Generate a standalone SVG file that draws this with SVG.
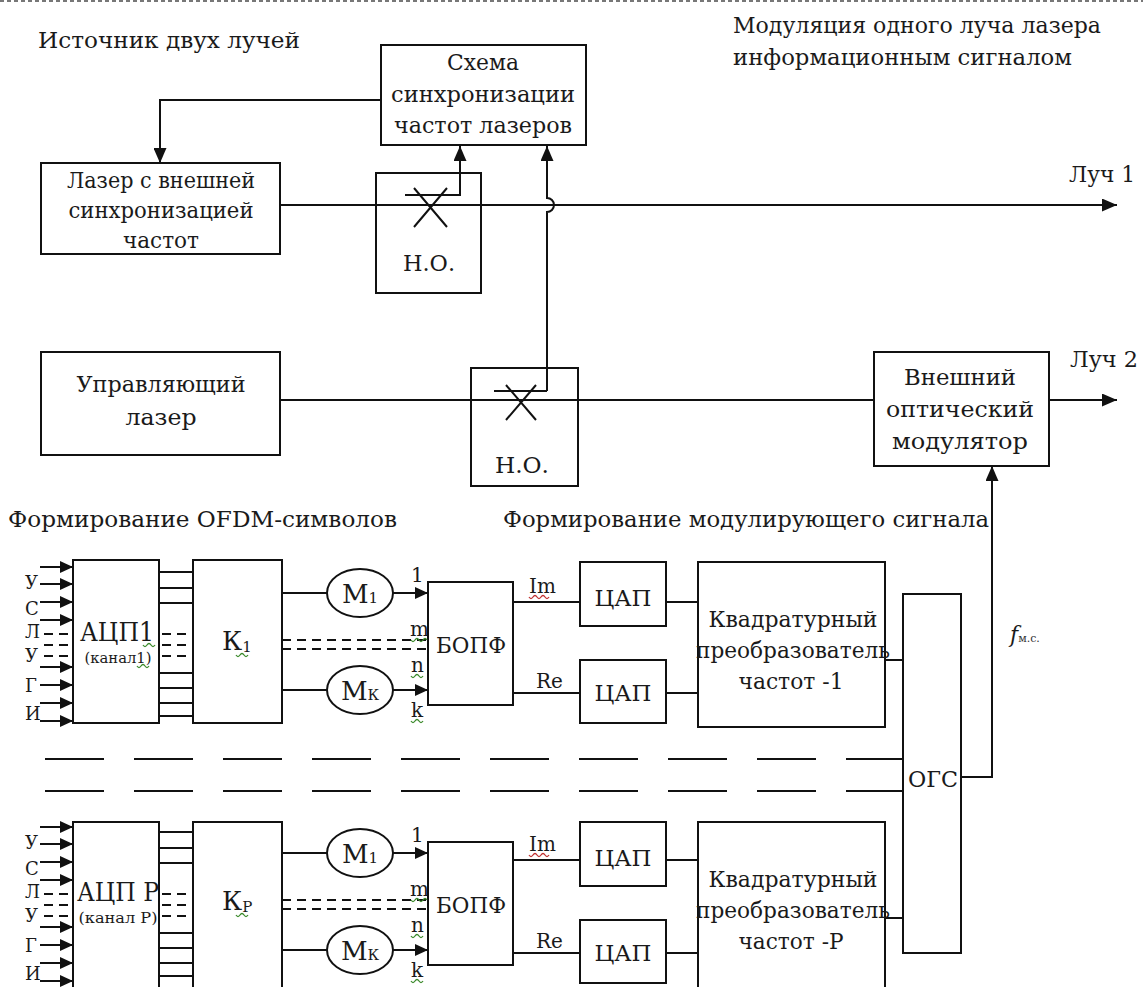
<svg xmlns="http://www.w3.org/2000/svg" width="1143" height="987" viewBox="0 0 1143 987">
<defs>
<marker id="ah" markerUnits="userSpaceOnUse" markerWidth="15" markerHeight="13" refX="15" refY="6.5" orient="auto"><path d="M0,0 L15,6.5 L0,13 z" fill="#111"/></marker>
<marker id="ahs" markerUnits="userSpaceOnUse" markerWidth="13" markerHeight="12" refX="13" refY="6" orient="auto"><path d="M0,0 L13,6 L0,12 z" fill="#111"/></marker>
<style>
.b{fill:#fff;stroke:#111;stroke-width:2}
.l{fill:none;stroke:#111;stroke-width:2}
.d{fill:none;stroke:#111;stroke-width:2;stroke-dasharray:9 6}
.t{font-family:"DejaVu Serif","Liberation Serif",serif;font-size:22px;fill:#1a1a1a}
.c{text-anchor:middle}
.big{font-size:26px}
.sm{font-size:14px}
.lt{font-size:18px}
.lb{font-size:20px}
.sq{fill:none;stroke:#3a8a2a;stroke-width:1.3}
.sqr{fill:none;stroke:#c03030;stroke-width:1.3}
</style>
</defs>
<rect width="1143" height="987" fill="#fff"/>
<line x1="0" y1="1" x2="1143" y2="1" stroke="#777" stroke-width="2" stroke-dasharray="4 3"/>

<g id="captions">
<text class="t" x="38" y="48" textLength="262" lengthAdjust="spacingAndGlyphs">Источник двух лучей</text>
<text class="t" x="733" y="33" textLength="368" lengthAdjust="spacingAndGlyphs">Модуляция одного луча лазера</text>
<text class="t" x="733" y="65" textLength="339" lengthAdjust="spacingAndGlyphs">информационным сигналом</text>
<text class="t" x="1069" y="182" textLength="66" lengthAdjust="spacingAndGlyphs">Луч 1</text>
<text class="t" x="1070" y="367" textLength="68" lengthAdjust="spacingAndGlyphs">Луч 2</text>
<text class="t" x="8" y="527" textLength="389" lengthAdjust="spacingAndGlyphs">Формирование OFDM-символов</text>
<text class="t" x="503" y="527" textLength="486" lengthAdjust="spacingAndGlyphs">Формирование модулирующего сигнала</text>
<text class="t" x="1010" y="642" font-style="italic" font-size="20" fill="#2a5a10">f<tspan font-size="11" font-style="normal" fill="#333">м.с.</tspan></text>
</g>

<g id="connectors">
<polyline class="l" points="381,100 160,100 160,163" marker-end="url(#ah)"/>
<line class="l" x1="280" y1="205" x2="1117" y2="205" marker-end="url(#ah)"/>
<polyline class="l" points="405,195 460,195 460,146" marker-end="url(#ah)"/>
<path class="l" d="M547,391 L547,212 A7,7 0 0 0 547,198 L547,146" marker-end="url(#ah)"/>
<polyline class="l" points="494,391 547,391"/>
<line class="l" x1="280" y1="400" x2="874" y2="400"/>
<line class="l" x1="1049" y1="400" x2="1117" y2="400" marker-end="url(#ah)"/>
<polyline class="l" points="961,777 992,777 992,466" marker-end="url(#ah)"/>
<g id="row1-conn">
<line class="l" x1="40" y1="567" x2="73" y2="567" marker-end="url(#ahs)"/>
<line class="l" x1="40" y1="584" x2="73" y2="584" marker-end="url(#ahs)"/>
<line class="l" x1="40" y1="602" x2="73" y2="602" marker-end="url(#ahs)"/>
<line class="l" x1="40" y1="620" x2="73" y2="620" marker-end="url(#ahs)"/>
<line class="l" x1="40" y1="667" x2="73" y2="667" marker-end="url(#ahs)"/>
<line class="l" x1="40" y1="685" x2="73" y2="685" marker-end="url(#ahs)"/>
<line class="l" x1="40" y1="703" x2="73" y2="703" marker-end="url(#ahs)"/>
<line class="l" x1="40" y1="721" x2="73" y2="721" marker-end="url(#ahs)"/>
<line class="d" x1="44" y1="634" x2="73" y2="634"/>
<line class="d" x1="44" y1="645" x2="73" y2="645"/>
<line class="d" x1="44" y1="656" x2="73" y2="656"/>
<path class="l" d="M159,572H193M159,588H193M159,603H193M159,673H193M159,688H193M159,703H193M159,716H193"/>
<line class="d" x1="162" y1="634" x2="193" y2="634"/>
<line class="d" x1="162" y1="645" x2="193" y2="645"/>
<line class="d" x1="162" y1="656" x2="193" y2="656"/>
<line class="l" x1="282" y1="593" x2="327" y2="593"/>
<line class="l" x1="282" y1="690" x2="327" y2="690"/>
<line class="l" x1="393" y1="593" x2="428" y2="593" marker-end="url(#ahs)"/>
<line class="l" x1="393" y1="690" x2="428" y2="690" marker-end="url(#ahs)"/>
<line class="d" x1="282" y1="640" x2="428" y2="640"/>
<line class="d" x1="282" y1="649" x2="428" y2="649"/>
<line class="l" x1="513" y1="602" x2="580" y2="602"/>
<line class="l" x1="513" y1="693" x2="580" y2="693"/>
<line class="l" x1="666" y1="602" x2="698" y2="602"/>
<line class="l" x1="666" y1="693" x2="698" y2="693"/>
<line class="l" x1="885" y1="660" x2="903" y2="660"/>
</g>
<g id="row2-conn" transform="translate(0,260)">
<line class="l" x1="40" y1="567" x2="73" y2="567" marker-end="url(#ahs)"/>
<line class="l" x1="40" y1="584" x2="73" y2="584" marker-end="url(#ahs)"/>
<line class="l" x1="40" y1="602" x2="73" y2="602" marker-end="url(#ahs)"/>
<line class="l" x1="40" y1="620" x2="73" y2="620" marker-end="url(#ahs)"/>
<line class="l" x1="40" y1="667" x2="73" y2="667" marker-end="url(#ahs)"/>
<line class="l" x1="40" y1="685" x2="73" y2="685" marker-end="url(#ahs)"/>
<line class="l" x1="40" y1="703" x2="73" y2="703" marker-end="url(#ahs)"/>
<line class="l" x1="40" y1="721" x2="73" y2="721" marker-end="url(#ahs)"/>
<line class="d" x1="44" y1="634" x2="73" y2="634"/>
<line class="d" x1="44" y1="645" x2="73" y2="645"/>
<line class="d" x1="44" y1="656" x2="73" y2="656"/>
<path class="l" d="M159,572H193M159,588H193M159,603H193M159,673H193M159,688H193M159,703H193M159,716H193"/>
<line class="d" x1="162" y1="634" x2="193" y2="634"/>
<line class="d" x1="162" y1="645" x2="193" y2="645"/>
<line class="d" x1="162" y1="656" x2="193" y2="656"/>
<line class="l" x1="282" y1="593" x2="327" y2="593"/>
<line class="l" x1="282" y1="690" x2="327" y2="690"/>
<line class="l" x1="393" y1="593" x2="428" y2="593" marker-end="url(#ahs)"/>
<line class="l" x1="393" y1="690" x2="428" y2="690" marker-end="url(#ahs)"/>
<line class="d" x1="282" y1="640" x2="428" y2="640"/>
<line class="d" x1="282" y1="649" x2="428" y2="649"/>
<line class="l" x1="513" y1="600" x2="580" y2="600"/>
<line class="l" x1="513" y1="693" x2="580" y2="693"/>
<line class="l" x1="666" y1="600" x2="698" y2="600"/>
<line class="l" x1="666" y1="693" x2="698" y2="693"/>
<line class="l" x1="885" y1="658" x2="903" y2="658"/>
</g>
<line x1="45" y1="759" x2="905" y2="759" stroke="#111" stroke-width="2" stroke-dasharray="59 30"/>
<line x1="45" y1="791" x2="905" y2="791" stroke="#111" stroke-width="2" stroke-dasharray="59 30"/>
</g>

<g id="sync">
<rect class="b" x="381" y="45" width="205" height="100"/>
<text class="t c" x="483" y="70" textLength="72" lengthAdjust="spacingAndGlyphs">Схема</text>
<text class="t c" x="483" y="102" textLength="184" lengthAdjust="spacingAndGlyphs">синхронизации</text>
<text class="t c" x="483" y="133" textLength="178" lengthAdjust="spacingAndGlyphs">частот лазеров</text>
</g>
<g id="laser-ext">
<rect class="b" x="41" y="163" width="239" height="91"/>
<text class="t c" x="161" y="188" textLength="188" lengthAdjust="spacingAndGlyphs">Лазер с внешней</text>
<text class="t c" x="161" y="218" textLength="185" lengthAdjust="spacingAndGlyphs">синхронизацией</text>
<text class="t c" x="161" y="248" textLength="76" lengthAdjust="spacingAndGlyphs">частот</text>
</g>
<g id="coupler1">
<rect x="376" y="173" width="105" height="120" fill="none" stroke="#111" stroke-width="2"/>
<path class="l" d="M414,188 L447,227 M414,227 L447,188"/>
<text class="t c" x="429" y="271" textLength="52" lengthAdjust="spacingAndGlyphs">Н.О.</text>
</g>
<g id="laser-ctrl">
<rect class="b" x="41" y="352" width="239" height="103"/>
<text class="t c" x="161" y="392" textLength="169" lengthAdjust="spacingAndGlyphs">Управляющий</text>
<text class="t c" x="161" y="425" textLength="71" lengthAdjust="spacingAndGlyphs">лазер</text>
</g>
<g id="coupler2">
<rect x="471" y="368" width="107" height="118" fill="none" stroke="#111" stroke-width="2"/>
<path class="l" d="M506,385 L536,420 M506,420 L536,385"/>
<text class="t c" x="522" y="473" textLength="54" lengthAdjust="spacingAndGlyphs">Н.О.</text>
</g>
<g id="modulator">
<rect class="b" x="874" y="352" width="175" height="114"/>
<text class="t c" x="960" y="385" textLength="112" lengthAdjust="spacingAndGlyphs">Внешний</text>
<text class="t c" x="960" y="417" textLength="148" lengthAdjust="spacingAndGlyphs">оптический</text>
<text class="t c" x="960" y="449" textLength="136" lengthAdjust="spacingAndGlyphs">модулятор</text>
</g>

<g id="ogs">
<rect class="b" x="903" y="594" width="58" height="359"/>
<text class="t c" x="933" y="787" textLength="50" lengthAdjust="spacingAndGlyphs">ОГС</text>
</g>

<g id="row1">
<g id="inputs1">
<text class="t lt" x="25" y="589">У</text>
<text class="t lt" x="25" y="615">С</text>
<text class="t lt" x="25" y="638">Л</text>
<text class="t lt" x="25" y="662">У</text>
<text class="t lt" x="25" y="692">Г</text>
<text class="t lt" x="25" y="720">И</text>
</g>
<g id="adc1">
<rect class="b" x="73" y="560" width="86" height="163"/>
<text class="t c big" x="117" y="641" textLength="74" lengthAdjust="spacingAndGlyphs">АЦП1</text>
<text class="t c sm" x="118" y="663" textLength="67" lengthAdjust="spacingAndGlyphs">(канал1)</text>
</g>
<g id="k1">
<rect class="b" x="193" y="560" width="89" height="163"/>
<text class="t big" x="222" y="650">К<tspan font-size="15" dy="2">1</tspan></text>
</g>
<g id="m1-1">
<ellipse class="b" cx="360" cy="593" rx="33" ry="24"/>
<text class="t big c" x="360" y="603">М<tspan font-size="15">1</tspan></text>
</g>
<g id="mk-1">
<ellipse class="b" cx="360" cy="690" rx="33" ry="24"/>
<text class="t big c" x="360" y="700">М<tspan font-size="15">К</tspan></text>
</g>
<g id="labels1">
<text class="t lb" x="411" y="582">1</text>
<text class="t lb" x="410" y="636">m</text>
<text class="t lb" x="411" y="672">n</text>
<text class="t lb" x="411" y="717">k</text>
<text class="t lb" x="529" y="593">Im</text>
<text class="t lb" x="536" y="688">Re</text>
</g>
<g id="bopf1">
<rect class="b" x="428" y="582" width="85" height="123"/>
<text class="t c" x="471" y="653" textLength="70" lengthAdjust="spacingAndGlyphs">БОПФ</text>
</g>
<g id="dac1a">
<rect class="b" x="580" y="562" width="86" height="64"/>
<text class="t c" x="623" y="606" textLength="57" lengthAdjust="spacingAndGlyphs">ЦАП</text>
</g>
<g id="dac1b">
<rect class="b" x="580" y="660" width="86" height="63"/>
<text class="t c" x="623" y="701" textLength="57" lengthAdjust="spacingAndGlyphs">ЦАП</text>
</g>
<g id="quad1">
<rect class="b" x="698" y="562" width="187" height="165"/>
<text class="t c" x="793" y="627" textLength="169" lengthAdjust="spacingAndGlyphs">Квадратурный</text>
<text class="t c" x="793" y="658" textLength="194" lengthAdjust="spacingAndGlyphs">преобразователь</text>
<text class="t c" x="791" y="689" textLength="105" lengthAdjust="spacingAndGlyphs">частот -1</text>
</g>
</g>

<g id="row2">
<g id="inputs2">
<text class="t lt" x="25" y="849">У</text>
<text class="t lt" x="25" y="875">С</text>
<text class="t lt" x="25" y="898">Л</text>
<text class="t lt" x="25" y="922">У</text>
<text class="t lt" x="25" y="952">Г</text>
<text class="t lt" x="25" y="980">И</text>
</g>
<g id="adcP">
<rect class="b" x="73" y="822" width="86" height="170"/>
<text class="t c big" x="118" y="901" textLength="82" lengthAdjust="spacingAndGlyphs">АЦП Р</text>
<text class="t c sm" x="118" y="923" textLength="79" lengthAdjust="spacingAndGlyphs">(канал Р)</text>
</g>
<g id="kP">
<rect class="b" x="193" y="822" width="89" height="170"/>
<text class="t big" x="222" y="910">К<tspan font-size="15" dy="2">Р</tspan></text>
</g>
<g id="m1-2">
<ellipse class="b" cx="360" cy="853" rx="33" ry="24"/>
<text class="t big c" x="360" y="863">М<tspan font-size="15">1</tspan></text>
</g>
<g id="mk-2">
<ellipse class="b" cx="360" cy="950" rx="33" ry="24"/>
<text class="t big c" x="360" y="960">М<tspan font-size="15">К</tspan></text>
</g>
<g id="labels2">
<text class="t lb" x="411" y="842">1</text>
<text class="t lb" x="410" y="896">m</text>
<text class="t lb" x="411" y="932">n</text>
<text class="t lb" x="411" y="977">k</text>
<text class="t lb" x="529" y="851">Im</text>
<text class="t lb" x="536" y="948">Re</text>
</g>
<g id="bopf2">
<rect class="b" x="428" y="842" width="85" height="123"/>
<text class="t c" x="471" y="913" textLength="70" lengthAdjust="spacingAndGlyphs">БОПФ</text>
</g>
<g id="dac2a">
<rect class="b" x="580" y="822" width="86" height="64"/>
<text class="t c" x="623" y="866" textLength="57" lengthAdjust="spacingAndGlyphs">ЦАП</text>
</g>
<g id="dac2b">
<rect class="b" x="580" y="920" width="86" height="63"/>
<text class="t c" x="623" y="961" textLength="57" lengthAdjust="spacingAndGlyphs">ЦАП</text>
</g>
<g id="quadP">
<rect class="b" x="698" y="822" width="187" height="170"/>
<text class="t c" x="793" y="887" textLength="169" lengthAdjust="spacingAndGlyphs">Квадратурный</text>
<text class="t c" x="793" y="918" textLength="194" lengthAdjust="spacingAndGlyphs">преобразователь</text>
<text class="t c" x="791" y="949" textLength="105" lengthAdjust="spacingAndGlyphs">частот -Р</text>
</g>
</g>

<g id="spellmarks">
<path class="sq" d="M411,640 q2,3 4,0 t4,0 t4,0 t4,0"/>
<path class="sq" d="M411,676 q2,3 4,0 t4,0 t4,0"/>
<path class="sq" d="M411,721 q2,3 4,0 t4,0 t4,0"/>
<path class="sq" d="M236,655 q2,3 4,0 t4,0 t4,0"/>
<path class="sq" d="M143,645 q2,3 4,0 t4,0 t4,0"/>
<path class="sq" d="M137,666 q2,3 4,0 t4,0 t4,0"/>
<path class="sqr" d="M529,597 q2,3 4,0 t4,0 t4,0 t4,0 t4,0"/>
<path class="sq" d="M411,900 q2,3 4,0 t4,0 t4,0 t4,0"/>
<path class="sq" d="M411,936 q2,3 4,0 t4,0 t4,0"/>
<path class="sq" d="M411,981 q2,3 4,0 t4,0 t4,0"/>
<path class="sq" d="M236,915 q2,3 4,0 t4,0 t4,0"/>
<path class="sqr" d="M529,855 q2,3 4,0 t4,0 t4,0 t4,0 t4,0"/>
</g>
</svg>
